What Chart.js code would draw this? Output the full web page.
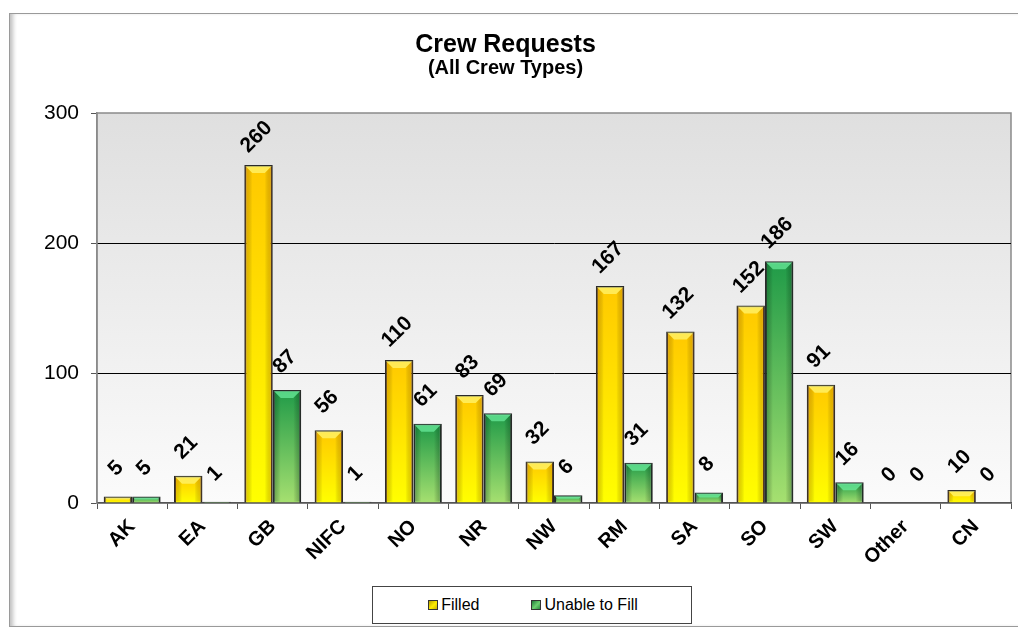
<!DOCTYPE html>
<html>
<head>
<meta charset="utf-8">
<script src="https://cdn.jsdelivr.net/npm/chart.js@4.4.1/dist/chart.umd.min.js"></script>
<style>
    html, body { margin: 0; padding: 0; background: #fff; overflow: hidden; }
    #marco { position: absolute; left: 9px; top: 13px; width: 1040px; height: 612px; border: 1px solid #9a9a9a; box-shadow: inset 5px 0 4px -2px #c0c0c0; }
    #grafico { position: absolute; left: 0; top: 0; }
    #leyenda { position: absolute; left: 372px; top: 586px; width: 316px; height: 36px; border: 1px solid #444; background: #fff;
        display: flex; align-items: center; justify-content: center; padding-left: 2px; box-sizing: content-box;
        font-family: "Liberation Sans", Arial, sans-serif; font-size: 16px; color: #000; }
    .item { display: flex; align-items: center; }
    .item + .item { margin-left: 52px; }
    .cuadro { width: 8px; height: 8px; border: 1px solid #333; margin-right: 3px; }
</style>
</head>
<body>
<div id="marco"></div>
<canvas id="grafico" width="1018" height="628"></canvas>
<div id="leyenda"></div>
<script>
// datos de la grafica
var regiones = ['AK', 'EA', 'GB', 'NIFC', 'NO', 'NR', 'NW', 'RM', 'SA', 'SO', 'SW', 'Other', 'CN'];
var llenadas = [5, 21, 260, 56, 110, 83, 32, 167, 132, 152, 91, 0, 10];
var sinLlenar = [5, 1, 87, 1, 61, 69, 6, 31, 8, 186, 16, 0, 0];
var marcasY = [0, 100, 200, 300];

var fuente = '"Liberation Sans", Arial, sans-serif';

// degradado vertical de cada barra, desde su tope hasta el cero
function degradadoBarra(ctx, arriba, abajo) {
    var chart = ctx.chart;
    if (!chart.chartArea || ctx.type !== 'data') return arriba;
    var y = chart.scales.y;
    var tope = y.getPixelForValue(ctx.raw);
    var base = y.getPixelForValue(0);
    if (base - tope < 1) return arriba;
    var g = chart.ctx.createLinearGradient(0, tope, 0, base);
    g.addColorStop(0, arriba);
    g.addColorStop(1, abajo);
    return g;
}

// fondo gris del area de trazado
var fondoPlot = {
    id: 'fondoPlot',
    beforeDraw: function (chart) {
        var a = chart.chartArea, c = chart.ctx;
        var g = c.createLinearGradient(0, a.top, 0, a.bottom);
        g.addColorStop(0, '#dfdfdf');
        g.addColorStop(1, '#fbfbfb');
        c.save();
        c.fillStyle = g;
        c.fillRect(a.left, a.top, a.right - a.left, a.bottom - a.top);
        c.strokeStyle = '#8a8a8a';
        c.lineWidth = 1.5;
        c.strokeRect(a.left, a.top, a.right - a.left, a.bottom - a.top);
        c.restore();
    }
};

// efecto de bisel encima de cada barra
var bisel = {
    id: 'bisel',
    afterDatasetsDraw: function (chart) {
        var c = chart.ctx;
        chart.data.datasets.forEach(function (ds, i) {
            chart.getDatasetMeta(i).data.forEach(function (barra) {
                var izq = barra.x - barra.width / 2 + 1;
                var der = barra.x + barra.width / 2 - 1;
                var arriba = barra.y + 1;
                var abajo = barra.base - 1;
                var alto = abajo - arriba;
                if (alto < 3) return;
                var b = Math.min(7, alto / 2, barra.width / 4);
                c.save();
                // tapa superior mas clara
                c.fillStyle = ds.tapa;
                c.beginPath();
                c.moveTo(izq, arriba);
                c.lineTo(der, arriba);
                c.lineTo(der - b, arriba + b);
                c.lineTo(izq + b, arriba + b);
                c.closePath();
                c.fill();
                // bordes laterales mas oscuros
                var gi = c.createLinearGradient(izq, 0, izq + b, 0);
                gi.addColorStop(0, ds.lado);
                gi.addColorStop(1, 'rgba(0,0,0,0)');
                c.fillStyle = gi;
                c.beginPath();
                c.moveTo(izq, arriba);
                c.lineTo(izq + b, arriba + b);
                c.lineTo(izq + b, abajo);
                c.lineTo(izq, abajo);
                c.closePath();
                c.fill();
                var gd = c.createLinearGradient(der, 0, der - b, 0);
                gd.addColorStop(0, ds.lado);
                gd.addColorStop(1, 'rgba(0,0,0,0)');
                c.fillStyle = gd;
                c.beginPath();
                c.moveTo(der, arriba);
                c.lineTo(der - b, arriba + b);
                c.lineTo(der - b, abajo);
                c.lineTo(der, abajo);
                c.closePath();
                c.fill();
                c.restore();
            });
        });
    }
};

// etiquetas con el valor, giradas 45 grados
var etiquetasValor = {
    id: 'etiquetasValor',
    afterDatasetsDraw: function (chart) {
        var c = chart.ctx;
        c.save();
        c.font = 'bold 21px ' + fuente;
        c.fillStyle = '#000';
        c.textAlign = 'center';
        c.textBaseline = 'middle';
        chart.data.datasets.forEach(function (ds, i) {
            chart.getDatasetMeta(i).data.forEach(function (barra, j) {
                c.save();
                c.translate(barra.x - 2, barra.y - 28);
                c.rotate(-Math.PI / 4);
                c.fillText(String(ds.data[j]), 0, 0);
                c.restore();
            });
        });
        c.restore();
    }
};

var ctx = document.getElementById('grafico').getContext('2d');
var grafico = new Chart(ctx, {
    type: 'bar',
    data: {
        labels: regiones,
        datasets: [{
            label: 'Filled',
            data: llenadas,
            backgroundColor: function (c) { return degradadoBarra(c, '#ffc800', '#ffff00'); },
            borderColor: '#2a2a2a',
            borderWidth: 2,
            tapa: 'rgba(255,248,120,0.7)',
            lado: 'rgba(200,110,0,0.35)',
            muestra: 'linear-gradient(135deg, #b8a000, #ffee00 55%, #c8b000)'
        }, {
            label: 'Unable to Fill',
            data: sinLlenar,
            backgroundColor: function (c) { return degradadoBarra(c, '#1f9a48', '#a6e070'); },
            borderColor: '#2a2a2a',
            borderWidth: 2,
            tapa: 'rgba(110,240,160,0.7)',
            lado: 'rgba(0,60,20,0.35)',
            muestra: 'linear-gradient(135deg, #1f7a38, #6cd070 55%, #2a8a40)'
        }]
    },
    options: {
        responsive: false,
        animation: false,
        categoryPercentage: 0.81,
        barPercentage: 1,
        layout: { padding: { left: 0, right: 7, top: 0, bottom: 0 } },
        plugins: {
            legend: { display: false },
            tooltip: { enabled: false },
            title: {
                display: true,
                text: 'Crew Requests',
                color: '#000',
                font: { family: fuente, size: 25, weight: 'bold', lineHeight: 1 },
                padding: { top: 33, bottom: 0 }
            },
            subtitle: {
                display: true,
                text: '(All Crew Types)',
                color: '#000',
                font: { family: fuente, size: 20, weight: 'bold', lineHeight: 1 },
                padding: { top: 0, bottom: 35 }
            }
        },
        scales: {
            x: {
                grid: { display: true, offset: true, drawOnChartArea: false, drawTicks: true, tickLength: 6, tickColor: '#555' },
                border: { display: true, color: '#555', width: 1.5 },
                ticks: {
                    color: '#000',
                    font: { family: fuente, size: 20, weight: 'bold' },
                    maxRotation: 45,
                    minRotation: 45,
                    padding: 6
                },
                afterFit: function (s) { s.height = 125; }
            },
            y: {
                min: 0,
                max: 300,
                afterBuildTicks: function (s) { s.ticks = marcasY.map(function (v) { return { value: v }; }); },
                grid: {
                    color: function (c) { return (c.tick && c.tick.value > 0 && c.tick.value < 300) ? '#000' : 'rgba(0,0,0,0)'; },
                    tickColor: '#555',
                    tickLength: 6,
                    lineWidth: 1
                },
                border: { display: true, color: '#8a8a8a', width: 1.5 },
                ticks: {
                    color: '#000',
                    font: { family: fuente, size: 21 },
                    padding: 12
                },
                afterFit: function (s) { s.width = 97; }
            }
        }
    },
    plugins: [fondoPlot, bisel, etiquetasValor]
});

// leyenda en html, hecha a partir de los datasets
var leyenda = document.getElementById('leyenda');
grafico.data.datasets.forEach(function (ds) {
    var item = document.createElement('div');
    item.className = 'item';
    var cuadro = document.createElement('span');
    cuadro.className = 'cuadro';
    cuadro.style.background = ds.muestra;
    var texto = document.createElement('span');
    texto.textContent = ds.label;
    item.appendChild(cuadro);
    item.appendChild(texto);
    leyenda.appendChild(item);
});
</script>
</body>
</html>
